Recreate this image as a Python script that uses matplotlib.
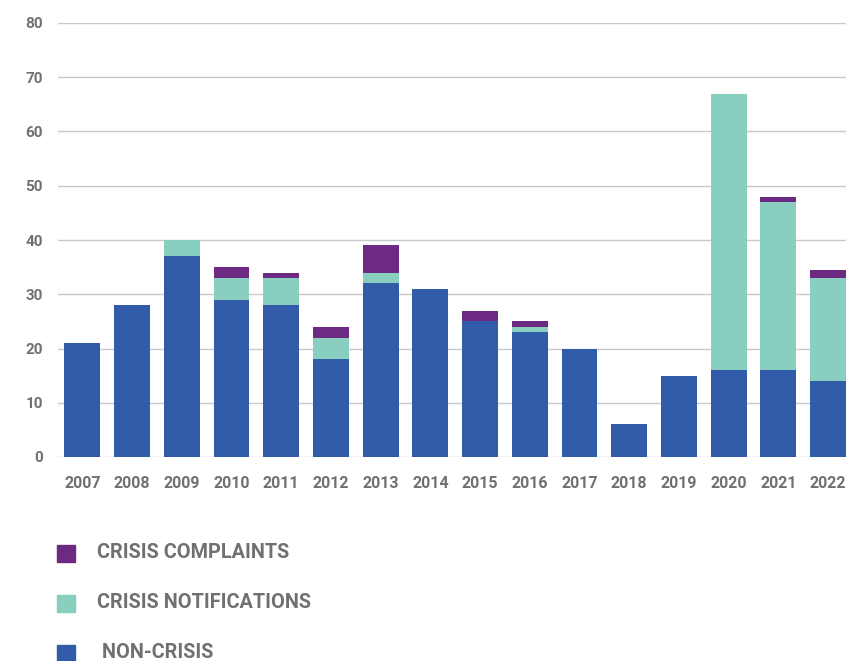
import numpy as np
import matplotlib
matplotlib.use("Agg")
import matplotlib.pyplot as plt
from matplotlib.patches import Rectangle

plt.rcParams['font.family'] = ['Roboto', 'DejaVu Sans']

years = ['2007', '2008', '2009', '2010', '2011', '2012', '2013', '2014',
         '2015', '2016', '2017', '2018', '2019', '2020', '2021', '2022']
non_crisis = [21, 28, 37, 29, 28, 18, 32, 31, 25, 23, 20, 6, 15, 16, 16, 14]
crisis_notifications = [0, 0, 3, 4, 5, 4, 2, 0, 0, 1, 0, 0, 0, 51, 31, 19]
crisis_complaints = [0, 0, 0, 2, 1, 2, 5, 0, 2, 1, 0, 0, 0, 0, 1, 1.5]

series_labels = ['CRISIS COMPLAINTS', 'CRISIS NOTIFICATIONS', ' NON-CRISIS']
blue = '#325ca9'
teal = '#88cfc0'
purple = '#6d2a82'
text_grey = '#707070'

fig = plt.figure(figsize=(8.46, 6.61), dpi=100)
ax = fig.add_axes([58 / 846, 1 - 457 / 661, 1 - 58 / 846, (457 - 23) / 661])

x = np.arange(len(years))
w = 0.72
nc = np.array(non_crisis, dtype=float)
cn = np.array(crisis_notifications, dtype=float)
cc = np.array(crisis_complaints, dtype=float)
ax.bar(x, nc, w, color=blue, zorder=3)
ax.bar(x, cn, w, bottom=nc, color=teal, zorder=3)
ax.bar(x, cc, w, bottom=nc + cn, color=purple, zorder=3)

ax.set_ylim(0, 80)
ax.set_xlim(-0.49, 15.36)
ax.set_yticks(np.arange(0, 81, 10))
ax.yaxis.grid(True, color='#c9c9c9', linewidth=1.0, zorder=0)
ax.set_xticks(x)
ax.set_xticklabels(years)
ax.tick_params(axis='both', length=0, labelsize=11.5, labelcolor=text_grey)
ax.tick_params(axis='x', pad=14)
ax.tick_params(axis='y', pad=11, labelsize=11)
for lab in ax.get_xticklabels() + ax.get_yticklabels():
    lab.set_fontweight('bold')
for side in ['top', 'right', 'left', 'bottom']:
    ax.spines[side].set_visible(False)

# legend drawn by hand below the plot
colors = [purple, teal, blue]
for i, (lab, col) in enumerate(zip(series_labels, colors)):
    ytop = 545 + i * 50
    fig.patches.append(Rectangle((57 / 846, 1 - (ytop + 17) / 661), 18 / 846, 17 / 661,
                                 transform=fig.transFigure, color=col))
    fig.text(97 / 846, 1 - (ytop + 8) / 661, lab, ha='left', va='center',
             fontsize=14.3, fontweight='bold', color=text_grey)

fig.savefig('out.png', dpi=100)
